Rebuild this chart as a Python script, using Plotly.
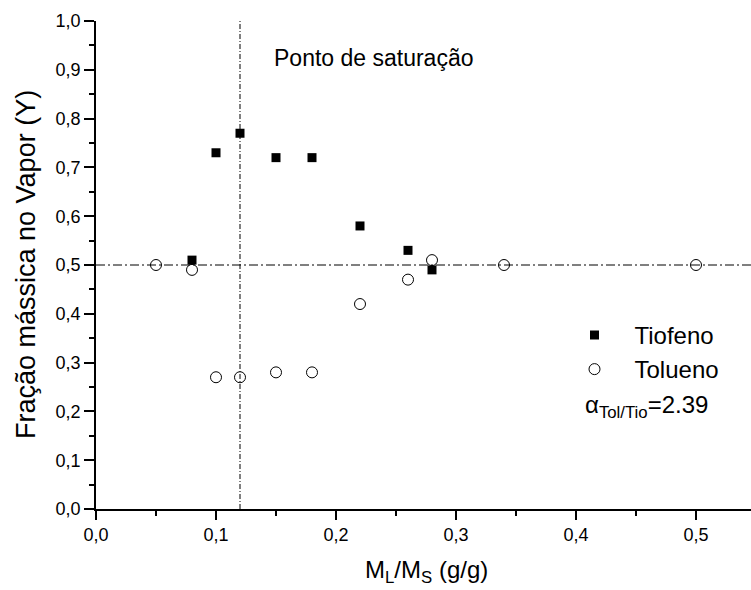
import plotly.graph_objects as go

# Vapor mass fraction vs. liquid/solid mass ratio
x_tiofeno = [0.08, 0.10, 0.12, 0.15, 0.18, 0.22, 0.26, 0.28]
y_tiofeno = [0.51, 0.73, 0.77, 0.72, 0.72, 0.58, 0.53, 0.49]

x_tolueno = [0.05, 0.08, 0.10, 0.12, 0.15, 0.18, 0.22, 0.26, 0.28, 0.34, 0.50]
y_tolueno = [0.50, 0.49, 0.27, 0.27, 0.28, 0.28, 0.42, 0.47, 0.51, 0.50, 0.50]

x_ticks = [0.0, 0.1, 0.2, 0.3, 0.4, 0.5]
x_tick_labels = ["0,0", "0,1", "0,2", "0,3", "0,4", "0,5"]
y_ticks = [0.0, 0.1, 0.2, 0.3, 0.4, 0.5, 0.6, 0.7, 0.8, 0.9, 1.0]
y_tick_labels = ["0,0", "0,1", "0,2", "0,3", "0,4", "0,5", "0,6", "0,7", "0,8", "0,9", "1,0"]

saturation_x = 0.12      # saturation point
equal_fraction_y = 0.50  # equimolar vapor composition
alpha_label = "α<sub>Tol/Tio</sub>=2.39"

FONT = "Arial, Liberation Sans, sans-serif"
W, H = 751, 590
ML, MR, MT, MB = 96, 0, 21, 81
px_per_unit = 1200.0
x_max = (W - ML - MR) / px_per_unit
x_range = [0, x_max]
y_range = [0, 1.0]

fig = go.Figure()

fig.add_trace(go.Scatter(
    x=x_tiofeno, y=y_tiofeno, mode="markers", name="Tiofeno",
    marker=dict(symbol="square", size=9, color="black", line=dict(width=0)),
))
fig.add_trace(go.Scatter(
    x=x_tolueno, y=y_tolueno, mode="markers", name="Tolueno",
    marker=dict(symbol="circle", size=11, color="white",
                line=dict(color="black", width=1)),
))

# Reference lines
fig.add_shape(type="line", xref="x", yref="y",
              x0=saturation_x, x1=saturation_x, y0=y_range[0], y1=y_range[1],
              line=dict(color="black", width=1, dash="5px,2px,1px,2px"),
              layer="above")
fig.add_shape(type="line", xref="x", yref="y",
              x0=x_range[0], x1=x_range[1], y0=equal_fraction_y, y1=equal_fraction_y,
              line=dict(color="black", width=1, dash="9px,3px,2px,3px"),
              layer="above")

tick_font = dict(family=FONT, size=18, color="black")

fig.update_layout(
    width=W, height=H,
    margin=dict(l=ML, r=MR, t=MT, b=MB, pad=0),
    paper_bgcolor="white", plot_bgcolor="white",
    showlegend=True,
    legend=dict(
        x=0.70, y=0.402, xanchor="left", yanchor="top",
        font=dict(family=FONT, size=24, color="black"),
        bgcolor="rgba(0,0,0,0)", borderwidth=0, tracegroupgap=0,
        itemwidth=70,
    ),
    xaxis=dict(
        range=x_range, tickmode="array", tickvals=x_ticks, ticktext=x_tick_labels,
        ticks="outside", ticklen=9, tickwidth=1.5, tickcolor="black",
        minor=dict(dtick=0.05, ticks="outside", ticklen=5, tickwidth=1.5, tickcolor="black"),
        showline=True, linecolor="black", linewidth=1.5,
        showgrid=False, zeroline=False, tickfont=tick_font,
    ),
    yaxis=dict(
        range=y_range, tickmode="array", tickvals=y_ticks, ticktext=y_tick_labels,
        ticks="outside", ticklen=10, tickwidth=1.5, tickcolor="black",
        minor=dict(dtick=0.05, ticks="outside", ticklen=5, tickwidth=1.5, tickcolor="black"),
        showline=True, linecolor="black", linewidth=1.5,
        showgrid=False, zeroline=False, tickfont=tick_font,
    ),
    xaxis2=dict(
        overlaying="x", side="top", anchor="y", range=x_range,
        tickmode="array", tickvals=x_ticks, showticklabels=False,
        ticks="inside", ticklen=10, tickwidth=1.5, tickcolor="black",
        minor=dict(dtick=0.05, ticks="inside", ticklen=5, tickwidth=1.5, tickcolor="black"),
        showline=True, linecolor="black", linewidth=1.5,
        showgrid=False, zeroline=False,
    ),
    yaxis2=dict(
        overlaying="y", side="right", anchor="x", range=y_range,
        tickmode="array", tickvals=y_ticks, showticklabels=False,
        ticks="inside", ticklen=4, tickwidth=1.5, tickcolor="black",
        showline=False, showgrid=False, zeroline=False,
    ),
)

# Axis titles and in-plot notes
fig.add_annotation(
    text="Fração mássica no Vapor (Y)", textangle=-90,
    xref="paper", yref="paper", x=0, y=0.5, xshift=-70,
    xanchor="center", yanchor="middle", showarrow=False,
    font=dict(family=FONT, size=27, color="black"),
)
fig.add_annotation(
    text="M<sub>L</sub>/M<sub>S</sub> (g/g)",
    xref="x", yref="paper", x=0.275, y=0, yshift=-62,
    xanchor="center", yanchor="middle", showarrow=False,
    font=dict(family=FONT, size=24, color="black"),
)
fig.add_annotation(
    text="Ponto de saturação", xref="x", yref="y",
    x=0.147, y=0.924, xanchor="left", yanchor="middle", showarrow=False,
    font=dict(family=FONT, size=23, color="black"),
)
fig.add_annotation(
    text=alpha_label, xref="x", yref="y",
    x=0.406, y=0.21, xanchor="left", yanchor="middle", showarrow=False,
    font=dict(family=FONT, size=24, color="black"),
)

fig.write_html("out.html")
